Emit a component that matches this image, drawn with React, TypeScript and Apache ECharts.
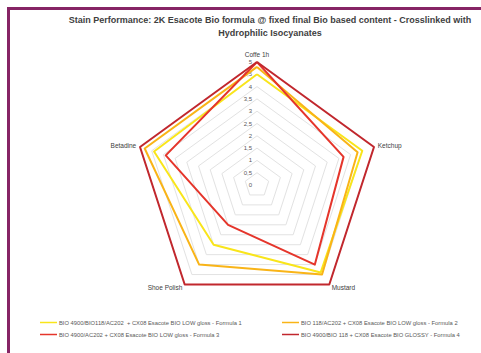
import React, { useEffect, useRef } from "react";
import * as echarts from "echarts";

// Indicators in ECharts (counter-clockwise) order starting at the top
const categories = ["Coffe 1h", "Betadine", "Shoe Polish", "Mustard", "Ketchup"];
const maxValue = 5;
const tickLabels = ["0", "0,5", "1", "1,5", "2", "2,5", "3", "3,5", "4", "4,5", "5"];

const seriesNames = [
  "BIO 4900/BIO118/AC202  + CX08 Esacote BIO LOW gloss - Formula 1",
  "BIO 118/AC202 + CX08 Esacote BIO LOW gloss - Formula 2",
  "BIO 4900/AC202 + CX08 Esacote BIO LOW gloss - Formula 3",
  "BIO 4900/BIO 118 + CX08 Esacote BIO GLOSSY - Formula 4",
];
const formula1 = [4.5, 4.4, 3.0, 4.4, 4.5];
const formula2 = [4.8, 4.8, 4.0, 4.5, 4.3];
const formula3 = [5.0, 3.9, 2.0, 4.0, 3.7];
const formula4 = [5.0, 5.0, 5.0, 5.0, 5.0];
const colors = ["#F9E51A", "#F9B417", "#E5352B", "#C1272D"];

const titleText =
  "Stain Performance: 2K Esacote Bio formula @ fixed final Bio based content - Crosslinked with\nHydrophilic Isocyanates";

export default function App() {
  const ref = useRef<HTMLDivElement>(null);
  useEffect(() => {
    document.body.style.margin = "0";
    const chart = echarts.init(ref.current!, null, { renderer: "svg" });
    const cx = 257;
    const cy = 185;
    const r = 123;
    const values = [formula1, formula2, formula3, formula4];
    const legendText = {
      fontFamily: "Liberation Sans",
      fontSize: 5.8,
      color: "#595959",
      padding: [0, 0, 0, -3],
    };
    chart.setOption({
      animation: false,
      backgroundColor: "#ffffff",
      title: {
        text: titleText,
        left: 270,
        top: 13,
        padding: 0,
        textAlign: "center",
        textStyle: {
          fontFamily: "Liberation Sans",
          fontSize: 9,
          fontWeight: "bold",
          color: "#404040",
          lineHeight: 13,
        },
      },
      graphic: [
        {
          type: "rect",
          shape: { x: 8.5, y: 8.5, width: 600, height: 600 },
          style: { fill: "none", stroke: "#862465", lineWidth: 3 },
          silent: true,
        },
      ],
      legend: [
        {
          data: [seriesNames[0], seriesNames[2]],
          orient: "vertical",
          left: 40,
          top: 319.5,
          padding: 0,
          itemGap: 6,
          itemWidth: 17,
          itemHeight: 1.5,
          icon: "rect",
          textStyle: { ...legendText },
        },
        {
          data: [seriesNames[1], seriesNames[3]],
          orient: "vertical",
          left: 282,
          top: 319.5,
          padding: 0,
          itemGap: 6,
          itemWidth: 17,
          itemHeight: 1.5,
          icon: "rect",
          textStyle: { ...legendText },
        },
      ],
      radar: {
        center: [cx, cy],
        radius: r,
        startAngle: 90,
        splitNumber: 10,
        shape: "polygon",
        indicator: categories.map((name) => ({ name, max: maxValue, min: 0 })),
        axisName: {
          color: "#404040",
          fontFamily: "Liberation Sans",
          fontSize: 6.5,
        },
        nameGap: 4,
        axisLine: { show: false },
        axisTick: { show: false },
        axisLabel: { show: false },
        splitLine: { lineStyle: { color: "#e2e2e2", width: 1 } },
        splitArea: { show: false },
      },
      grid: { left: cx, top: cy - r, width: 1, height: r },
      xAxis: { type: "value", show: false },
      yAxis: {
        type: "value",
        min: 0,
        max: maxValue,
        interval: 0.5,
        axisLine: { show: false },
        axisTick: { show: false },
        splitLine: { show: false },
        axisLabel: {
          margin: 5,
          fontFamily: "Liberation Sans",
          fontSize: 6,
          color: "#595959",
          formatter: (v: number) => tickLabels[Math.round(v * 2)],
        },
      },
      series: [
        {
          type: "radar",
          symbol: "none",
          data: values.map((v, i) => ({
            name: seriesNames[i],
            value: v,
            lineStyle: { color: colors[i], width: 2 },
            itemStyle: { color: colors[i] },
          })),
        },
      ],
    });
    return () => chart.dispose();
  }, []);
  return <div ref={ref} style={{ width: 481, height: 353 }} />;
}
